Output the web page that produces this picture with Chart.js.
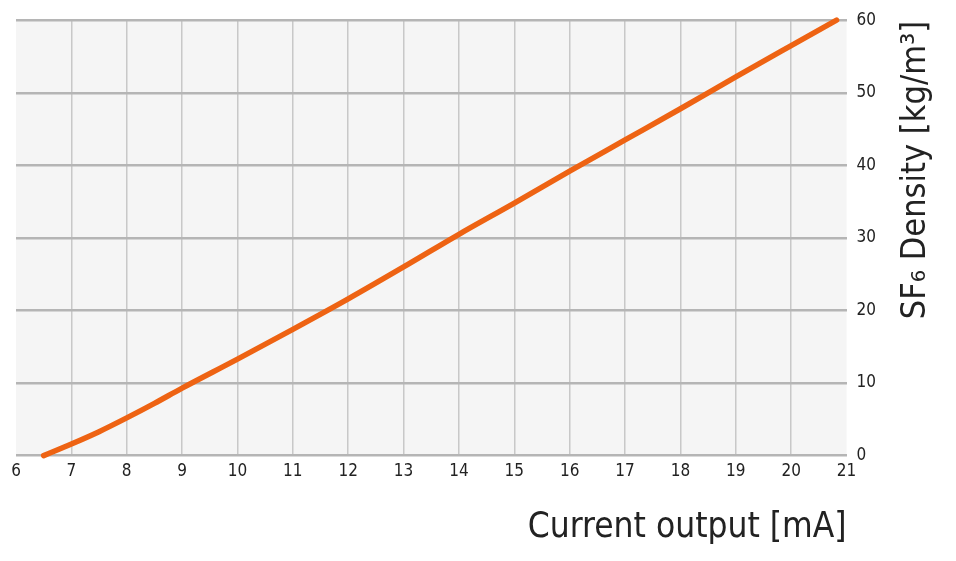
<!DOCTYPE html>
<html>
<head>
<meta charset="utf-8">
<script src="https://cdn.jsdelivr.net/npm/chart.js@4"></script>
<style>
html,body{margin:0;padding:0;background:#fff;}
#wrap{width:956px;height:561px;}
</style>
</head>
<body>
<div id="wrap"><canvas id="c" width="956" height="561"></canvas></div>
<script>
const currentMA = [6.5, 7, 7.5, 8, 8.5, 9, 10, 11, 12, 13, 14, 15, 16, 17, 18, 19, 20, 20.82];
const densityKg = [0, 1.6, 3.3, 5.2, 7.2, 9.3, 13.3, 17.4, 21.6, 26.0, 30.5, 34.8, 39.2, 43.5, 47.8, 52.2, 56.5, 60];
const xTitle = 'Current output [mA]';
const yTitle = 'SF₆ Density [kg/m³]';
const FONT = '"Liberation Sans Narrow", "DejaVu Sans Condensed", "Roboto", sans-serif';

const bgPlugin = {
  id: 'bg',
  beforeDraw(chart) {
    const {ctx, chartArea: a} = chart;
    ctx.save();
    ctx.fillStyle = '#f5f5f5';
    ctx.fillRect(a.left, a.top, a.right - a.left, a.bottom - a.top);
    ctx.restore();
  },
  afterDraw(chart) {
    const {ctx} = chart;
    ctx.save();
    ctx.translate(916, 170);
    ctx.rotate(-Math.PI / 2);
    ctx.font = '34px ' + FONT;
    ctx.fillStyle = '#222';
    ctx.textAlign = 'center';
    ctx.textBaseline = 'middle';
    ctx.fillText(yTitle, 0, 0);
    ctx.restore();
  }
};

new Chart(document.getElementById('c'), {
  type: 'line',
  data: {
    datasets: [{
      data: currentMA.map((x, i) => ({x: x, y: densityKg[i]})),
      borderColor: '#ee6313',
      borderWidth: 5.5,
      pointRadius: 0,
      cubicInterpolationMode: 'monotone',
      borderCapStyle: 'round',
      clip: 10,
      fill: false
    }]
  },
  options: {
    responsive: false,
    animation: false,
    devicePixelRatio: 1,
    layout: {padding: {left: 16, right: 70, top: 20, bottom: 12}},
    plugins: {legend: {display: false}, tooltip: {enabled: false}},
    scales: {
      x: {
        type: 'linear', min: 6, max: 21,
        ticks: {stepSize: 1, color: '#222', font: {family: FONT, size: 17}, padding: 6, maxRotation: 0},
        grid: {
          drawTicks: false, lineWidth: 1.5,
          color: c => (c.tick && (c.tick.value === 6 || c.tick.value === 21)) ? 'rgba(0,0,0,0)' : '#c8c8c8'
        },
        border: {display: false},
        title: {display: true, text: xTitle, align: 'end', color: '#222', font: {family: FONT, size: 35}, padding: {top: 19, bottom: 0}}
      },
      y: {
        position: 'right', min: 0, max: 60,
        ticks: {stepSize: 10, color: '#222', font: {family: FONT, size: 17}, padding: 10},
        grid: {drawTicks: false, lineWidth: 2.5, color: '#b5b5b5'},
        border: {display: false}
      }
    }
  },
  plugins: [bgPlugin]
});
</script>
</body>
</html>
